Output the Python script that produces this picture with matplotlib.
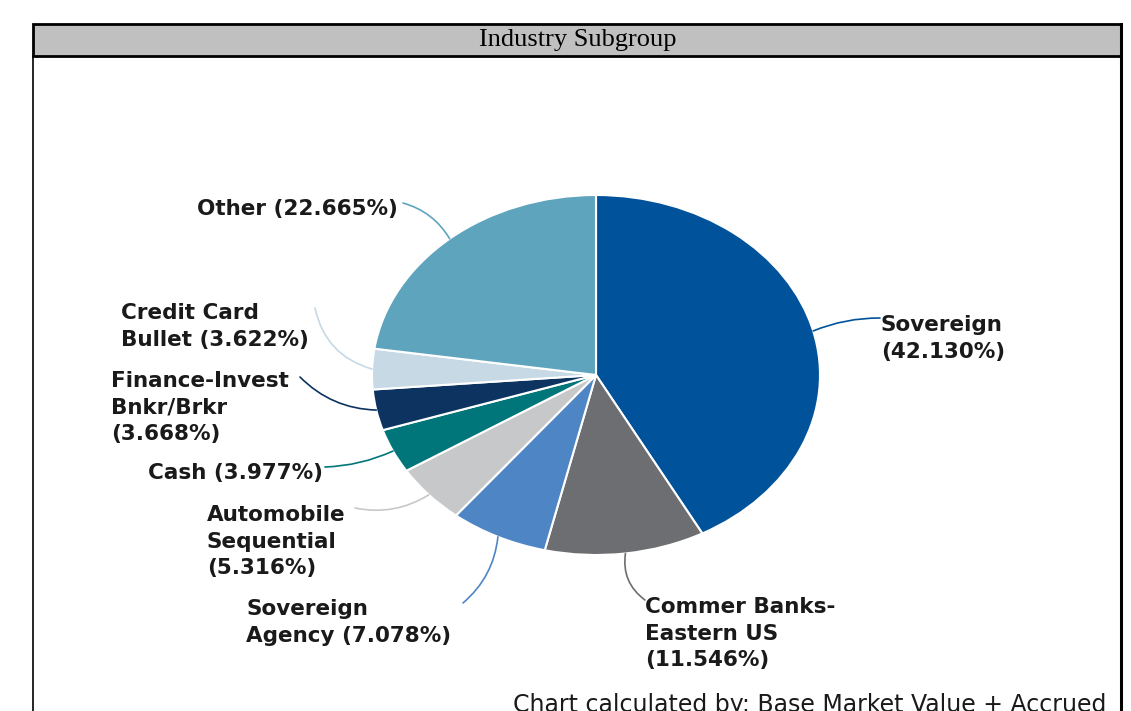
import numpy as np
import matplotlib
matplotlib.use('Agg')
import matplotlib.pyplot as plt
from matplotlib.patches import Rectangle

# Dados (percentuais por subgrupo)
categorias = ['Sovereign', 'Commer Banks-Eastern US', 'Sovereign Agency',
              'Automobile Sequential', 'Cash', 'Finance-Invest Bnkr/Brkr',
              'Credit Card Bullet', 'Other']
percentuais = [42.130, 11.546, 7.078, 5.316, 3.977, 3.668, 3.622, 22.665]
rotulos = ['Sovereign\n(42.130%)',
           'Commer Banks-\nEastern US\n(11.546%)',
           'Sovereign\nAgency (7.078%)',
           'Automobile\nSequential\n(5.316%)',
           'Cash (3.977%)',
           'Finance-Invest\nBnkr/Brkr\n(3.668%)',
           'Credit Card\nBullet (3.622%)',
           'Other (22.665%)']
cores = ['#00539B', '#6D6E71', '#4E86C5', '#C7C8CA',
         '#00757A', '#0D3360', '#C6D9E5', '#5FA4BD']

# posicoes dos rotulos (pixels) e fim das linhas guia
pos_texto = [(881, 315, 'left'), (645, 597, 'left'), (246, 599, 'left'),
             (207, 505, 'left'), (323, 463, 'right'), (111, 371, 'left'),
             (121, 303, 'left'), (398, 199, 'right')]
fim_linha = [(880, 318), (645, 600), (463, 603), (355, 508),
             (325, 467), (300, 377), (315, 308), (403, 203)]
curvas = [-0.1, 0.3, -0.2, -0.2, -0.1, -0.2, -0.3, 0.2]

W, H = 1131, 711
fig = plt.figure(figsize=(W / 100, H / 100), dpi=100)
fundo = fig.add_axes([0, 0, 1, 1])
fundo.set_xlim(0, W)
fundo.set_ylim(H, 0)
fundo.axis('off')

# pizza eliptica
cx, cy, rx, ry = 596, 375, 224, 180
ax = fig.add_axes([(cx - rx) / W, (H - cy - ry) / H, 2 * rx / W, 2 * ry / H])
wedges, _ = ax.pie(percentuais, colors=cores, startangle=90, counterclock=False,
                   radius=1, wedgeprops=dict(edgecolor='white', linewidth=1.5))
ax.set_aspect('auto')
ax.set_xlim(-1, 1)
ax.set_ylim(-1, 1)
ax.axis('off')

for w, cor, rot, (tx, ty, ha), fim, rad in zip(wedges, cores, rotulos, pos_texto, fim_linha, curvas):
    ang = np.deg2rad((w.theta1 + w.theta2) / 2)
    ax.annotate('', xy=fim, xycoords=fundo.transData,
                xytext=(np.cos(ang), np.sin(ang)), textcoords='data',
                arrowprops=dict(arrowstyle='-', color=cor, lw=1.2,
                                shrinkA=0, shrinkB=0,
                                connectionstyle=f'arc3,rad={rad}'),
                annotation_clip=False)
    fundo.text(tx, ty, rot, ha=ha, va='top', fontsize=15.5, fontweight='bold',
               color='#1a1a1a', linespacing=1.42)

# cabecalho e bordas
fundo.add_patch(Rectangle((33, 24), 1088, 32, facecolor='#C0C0C0',
                          edgecolor='black', lw=2))
fundo.plot([32.5, 32.5], [56, H], color='black', lw=1.2)
fundo.plot([1121, 1121], [24, H], color='black', lw=2.2)
fundo.text(578, 40, 'Industry Subgroup', ha='center', va='center',
           fontsize=19, family='Liberation Serif', color='black')

fundo.text(513, 712, 'Chart calculated by: Base Market Value + Accrued',
           ha='left', va='baseline', fontsize=17, color='#1a1a1a')

fig.savefig('out.png', dpi=100)
